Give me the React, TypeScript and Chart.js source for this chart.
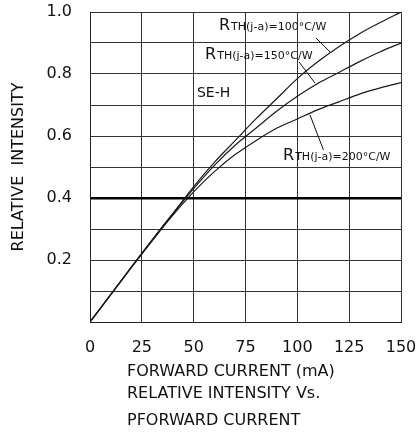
import React, { useEffect, useRef } from 'react';
import { Chart, registerables } from 'chart.js';

Chart.register(...registerables);

// ---- data ----
const currents = [0, 10, 20, 30, 40, 50, 60, 70, 80, 90, 100, 110, 120, 130, 140, 150];
const rth100 = [0, 0.088, 0.178, 0.265, 0.35, 0.437, 0.515, 0.585, 0.655, 0.72, 0.785, 0.84, 0.888, 0.93, 0.966, 1.0];
const rth150 = [0, 0.088, 0.177, 0.265, 0.35, 0.43, 0.505, 0.57, 0.625, 0.68, 0.728, 0.77, 0.805, 0.84, 0.872, 0.9];
const rth200 = [0, 0.088, 0.176, 0.262, 0.345, 0.42, 0.485, 0.54, 0.585, 0.625, 0.655, 0.685, 0.71, 0.735, 0.755, 0.772];

const xTickLabels = ['0', '25', '50', '75', '100', '125', '150'];
const yTickLabels = ['0.2', '0.4', '0.6', '0.8', '1.0'];
const yTitle = 'RELATIVE  INTENSITY';
const xTitleLines = ['FORWARD CURRENT (mA)', 'RELATIVE INTENSITY Vs.', 'PFORWARD CURRENT'];
const seriesNames = ['RTH(j-a)=100°C/W', 'RTH(j-a)=150°C/W', 'RTH(j-a)=200°C/W'];
const curveLabelTexts = ['TH(j-a)=100°C/W', 'TH(j-a)=150°C/W', 'TH(j-a)=200°C/W'];
const typeLabel = 'SE-H';

// label placement, in data units (current mA, relative intensity)
const curveLabelAnchors = [
  { at: [62.2, 0.942], from: [109, 0.916], to: [115.8, 0.871] },
  { at: [55.5, 0.848], from: [100.8, 0.839], to: [108.5, 0.771] },
  { at: [93.1, 0.521], from: [112.6, 0.555], to: [106.1, 0.668] },
];
const typeLabelAnchor = [51.6, 0.726];

const FONT = '"DejaVu Sans", "Liberation Sans", sans-serif';

const annotationPlugin = {
  id: 'annotations',
  afterDraw(chart: any) {
    const { ctx, chartArea } = chart;
    const xs = chart.scales.x;
    const ys = chart.scales.y;
    const px = (v: number) => xs.getPixelForValue(v);
    const py = (v: number) => ys.getPixelForValue(v);
    ctx.save();
    ctx.fillStyle = '#111';
    ctx.strokeStyle = '#111';
    ctx.lineWidth = 1;
    ctx.textBaseline = 'alphabetic';
    ctx.textAlign = 'left';
    curveLabelAnchors.forEach((a, i) => {
      const x = px(a.at[0]);
      const y = py(a.at[1]);
      ctx.font = `16px ${FONT}`;
      ctx.fillText('R', x, y);
      const w = ctx.measureText('R').width;
      ctx.font = `11px ${FONT}`;
      ctx.fillText(curveLabelTexts[i], x + w + 1, y);
      ctx.beginPath();
      ctx.moveTo(px(a.from[0]), py(a.from[1]));
      ctx.lineTo(px(a.to[0]), py(a.to[1]));
      ctx.stroke();
    });
    ctx.font = `14px ${FONT}`;
    ctx.fillText(typeLabel, px(typeLabelAnchor[0]), py(typeLabelAnchor[1]));

    // x-axis multi-line caption
    ctx.font = `16px ${FONT}`;
    ctx.textBaseline = 'middle';
    const left = chartArea.left + 37;
    const lineYs = [50, 72, 99];
    xTitleLines.forEach((t, i) => {
      ctx.fillText(t, left, chartArea.bottom + lineYs[i]);
    });
    ctx.restore();
  },
};

export default function App() {
  const canvasRef = useRef<HTMLCanvasElement | null>(null);

  useEffect(() => {
    const canvas = canvasRef.current;
    if (!canvas) return;
    const mk = (data: number[], i: number) => ({
      label: seriesNames[i],
      data: currents.map((c, k) => ({ x: c, y: data[k] })),
      borderColor: '#1a1a1a',
      borderWidth: 1.2,
      pointRadius: 0,
      fill: false,
      cubicInterpolationMode: 'monotone' as const,
    });
    const chart = new Chart(canvas, {
      type: 'line',
      data: {
        datasets: [mk(rth100, 0), mk(rth150, 1), mk(rth200, 2)],
      },
      options: {
        animation: false,
        responsive: false,
        layout: { padding: { left: 0, top: 12, right: 18, bottom: 0 } },
        plugins: {
          legend: { display: false },
          tooltip: { enabled: false },
        },
        scales: {
          x: {
            type: 'linear',
            min: 0,
            max: 150,
            afterFit: (s: any) => {
              s.height = 114;
              s.paddingLeft = 0;
              s.paddingRight = 0;
            },
            border: { display: true, color: '#222', width: 1 },
            grid: { color: '#333', lineWidth: 1, drawTicks: false },
            ticks: {
              stepSize: 25,
              padding: 16,
              color: '#111',
              font: { family: FONT, size: 16 },
              callback: (v: any) => {
                const idx = xTickLabels.indexOf(String(v));
                return idx >= 0 ? xTickLabels[idx] : '';
              },
            },
          },
          y: {
            type: 'linear',
            min: 0,
            max: 1,
            afterFit: (s: any) => {
              s.width = 90;
              s.paddingTop = 0;
              s.paddingBottom = 0;
            },
            border: { display: true, color: '#222', width: 1 },
            grid: {
              drawTicks: false,
              color: (c: any) => (Math.abs(c.tick.value - 0.4) < 1e-6 ? '#000' : '#333'),
              lineWidth: (c: any) => (Math.abs(c.tick.value - 0.4) < 1e-6 ? 2.6 : 1),
            },
            title: {
              display: true,
              text: yTitle,
              color: '#111',
              font: { family: FONT, size: 16 },
              padding: { top: 9, bottom: 0 },
            },
            ticks: {
              stepSize: 0.1,
              autoSkip: false,
              padding: 18,
              color: '#111',
              font: { family: FONT, size: 16 },
              callback: (v: any) => {
                const s = Number(v).toFixed(1);
                return yTickLabels.includes(s) ? s : '';
              },
            },
          },
        },
      },
      plugins: [annotationPlugin],
    });
    return () => chart.destroy();
  }, []);

  return (
    <div style={{ position: 'absolute', left: 0, top: 0, width: 419, height: 436, background: '#fff' }}>
      <canvas ref={canvasRef} width={419} height={436} style={{ display: 'block' }} />
    </div>
  );
}
